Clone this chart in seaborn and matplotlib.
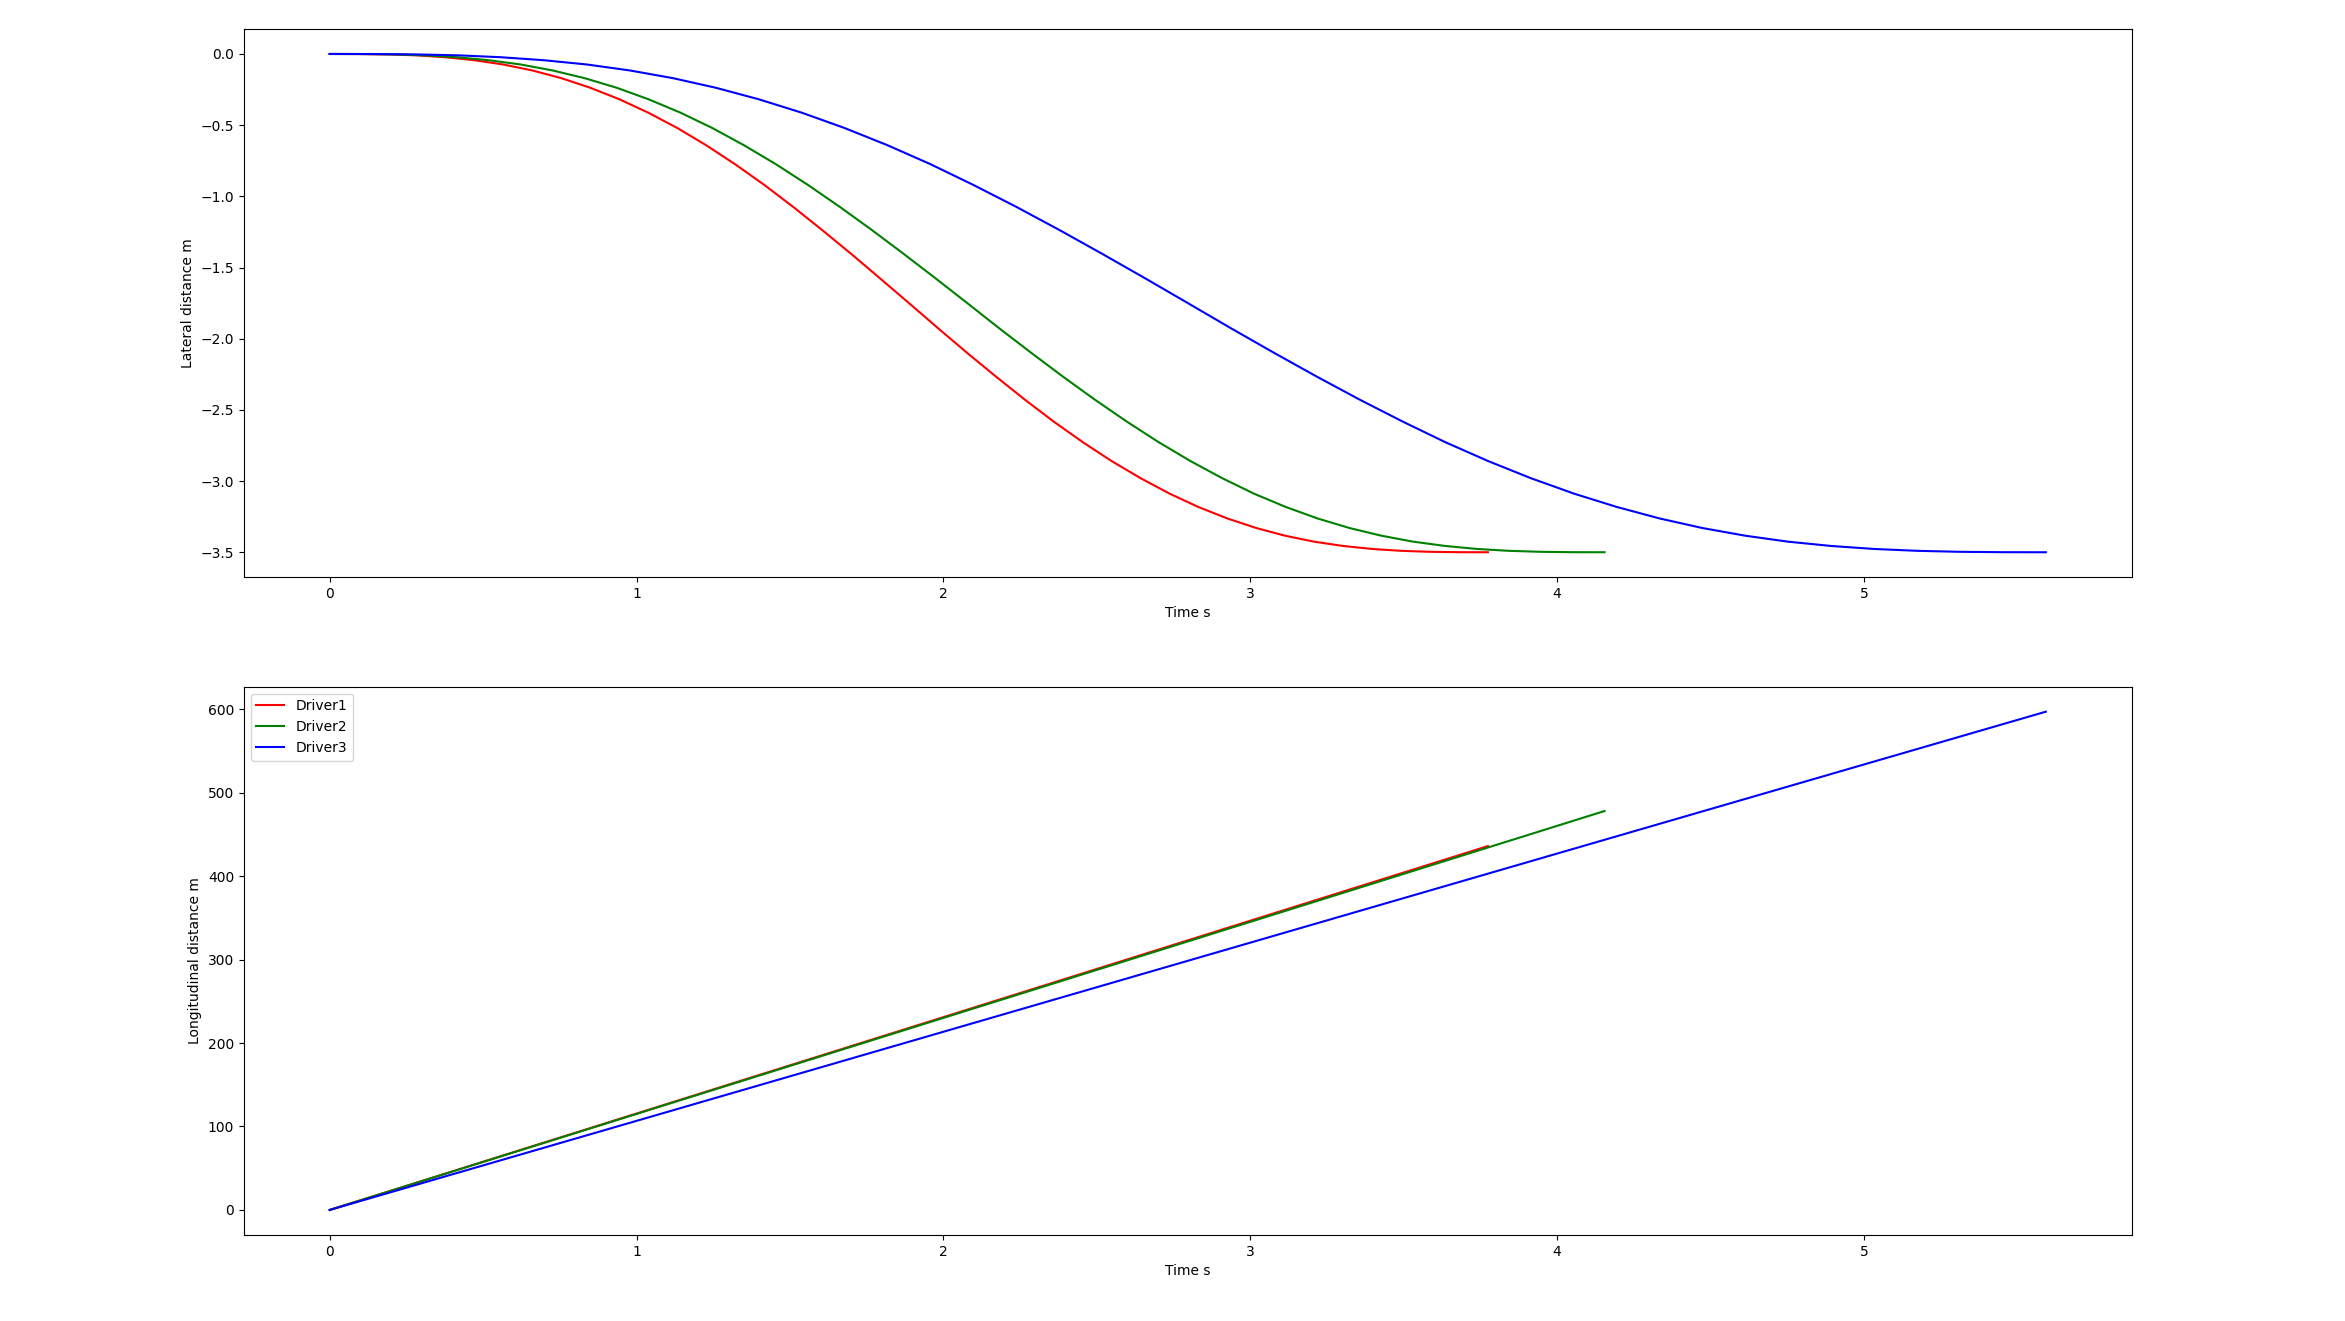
import matplotlib
matplotlib.use("Agg")
import matplotlib.pyplot as plt
import seaborn as sns

# ----- Data -----

# lateral distance (m), sampled at the same fraction of each manoeuvre
lateral_driver1 = [0.0, -0.0004, -0.003, -0.0096, -0.023, -0.044, -0.074, -0.116, -0.170, -0.237, -0.318,
                   -0.412, -0.520, -0.641, -0.774, -0.919, -1.073, -1.235, -1.403, -1.575, -1.750,
                   -1.925, -2.097, -2.265, -2.427, -2.581, -2.726, -2.859, -2.980, -3.088, -3.182,
                   -3.263, -3.330, -3.384, -3.426, -3.456, -3.477, -3.490, -3.497, -3.4996, -3.5]
lateral_driver2 = [0.0, -0.0004, -0.003, -0.0096, -0.023, -0.044, -0.074, -0.116, -0.170, -0.237, -0.318,
                   -0.412, -0.520, -0.641, -0.774, -0.919, -1.073, -1.235, -1.403, -1.575, -1.750,
                   -1.925, -2.097, -2.265, -2.427, -2.581, -2.726, -2.859, -2.980, -3.088, -3.182,
                   -3.263, -3.330, -3.384, -3.426, -3.456, -3.477, -3.490, -3.497, -3.4996, -3.5]
lateral_driver3 = [0.0, -0.0004, -0.003, -0.0096, -0.023, -0.044, -0.074, -0.116, -0.170, -0.237, -0.318,
                   -0.412, -0.520, -0.641, -0.774, -0.919, -1.073, -1.235, -1.403, -1.575, -1.750,
                   -1.925, -2.097, -2.265, -2.427, -2.581, -2.726, -2.859, -2.980, -3.088, -3.182,
                   -3.263, -3.330, -3.384, -3.426, -3.456, -3.477, -3.490, -3.497, -3.4996, -3.5]

# time (s) for the lateral samples
time_driver1 = [0.0, 0.094, 0.189, 0.283, 0.378, 0.472, 0.566, 0.661, 0.755, 0.849, 0.944,
                1.038, 1.133, 1.227, 1.321, 1.416, 1.510, 1.604, 1.699, 1.793, 1.888,
                1.982, 2.076, 2.171, 2.265, 2.359, 2.454, 2.548, 2.643, 2.737, 2.831,
                2.926, 3.020, 3.114, 3.209, 3.303, 3.398, 3.492, 3.586, 3.681, 3.775]
time_driver2 = [0.0, 0.104, 0.208, 0.312, 0.416, 0.519, 0.623, 0.727, 0.831, 0.935, 1.039,
                1.143, 1.247, 1.350, 1.454, 1.558, 1.662, 1.766, 1.870, 1.974, 2.078,
                2.181, 2.285, 2.389, 2.493, 2.597, 2.701, 2.805, 2.909, 3.012, 3.116,
                3.220, 3.324, 3.428, 3.532, 3.636, 3.740, 3.843, 3.947, 4.051, 4.155]
time_driver3 = [0.0, 0.140, 0.280, 0.420, 0.559, 0.699, 0.839, 0.979, 1.119, 1.258, 1.398,
                1.538, 1.678, 1.818, 1.958, 2.097, 2.237, 2.377, 2.517, 2.657, 2.797,
                2.936, 3.076, 3.216, 3.356, 3.496, 3.635, 3.775, 3.915, 4.055, 4.195,
                4.335, 4.474, 4.614, 4.754, 4.894, 5.034, 5.174, 5.313, 5.453, 5.593]

# longitudinal distance (m) - straight lines, start and end points
long_time_driver1 = [0.0, 3.775]
long_driver1 = [0.0, 436.0]
long_time_driver2 = [0.0, 4.155]
long_driver2 = [0.0, 478.0]
long_time_driver3 = [0.0, 5.593]
long_driver3 = [0.0, 597.0]

drivers = ["Driver1", "Driver2", "Driver3"]
colors = ["r", "g", "b"]

fig, (ax1, ax2) = plt.subplots(2, 1, figsize=(23.45, 13.21), dpi=100)
fig.subplots_adjust(left=0.104, right=0.909, bottom=0.0652, top=0.978, hspace=0.2)

# Lateral distance over time
lateral = [(time_driver1, lateral_driver1), (time_driver2, lateral_driver2), (time_driver3, lateral_driver3)]
for (t, y), name, c in zip(lateral, drivers, colors):
    sns.lineplot(x=t, y=y, color=c, label=name, estimator=None, legend=False, ax=ax1)
ax1.set_xlabel("Time s")
ax1.set_ylabel("Lateral distance m")
if ax1.get_legend() is not None:
    ax1.get_legend().remove()

# Longitudinal distance over time
longitudinal = [(long_time_driver1, long_driver1), (long_time_driver2, long_driver2),
                (long_time_driver3, long_driver3)]
for (t, y), name, c in zip(longitudinal, drivers, colors):
    sns.lineplot(x=t, y=y, color=c, label=name, estimator=None, legend=False, ax=ax2)
ax2.set_xlabel("Time s")
ax2.set_ylabel("Longitudinal distance m")
ax2.legend(loc="upper left")

fig.savefig("out.png", dpi=100)
